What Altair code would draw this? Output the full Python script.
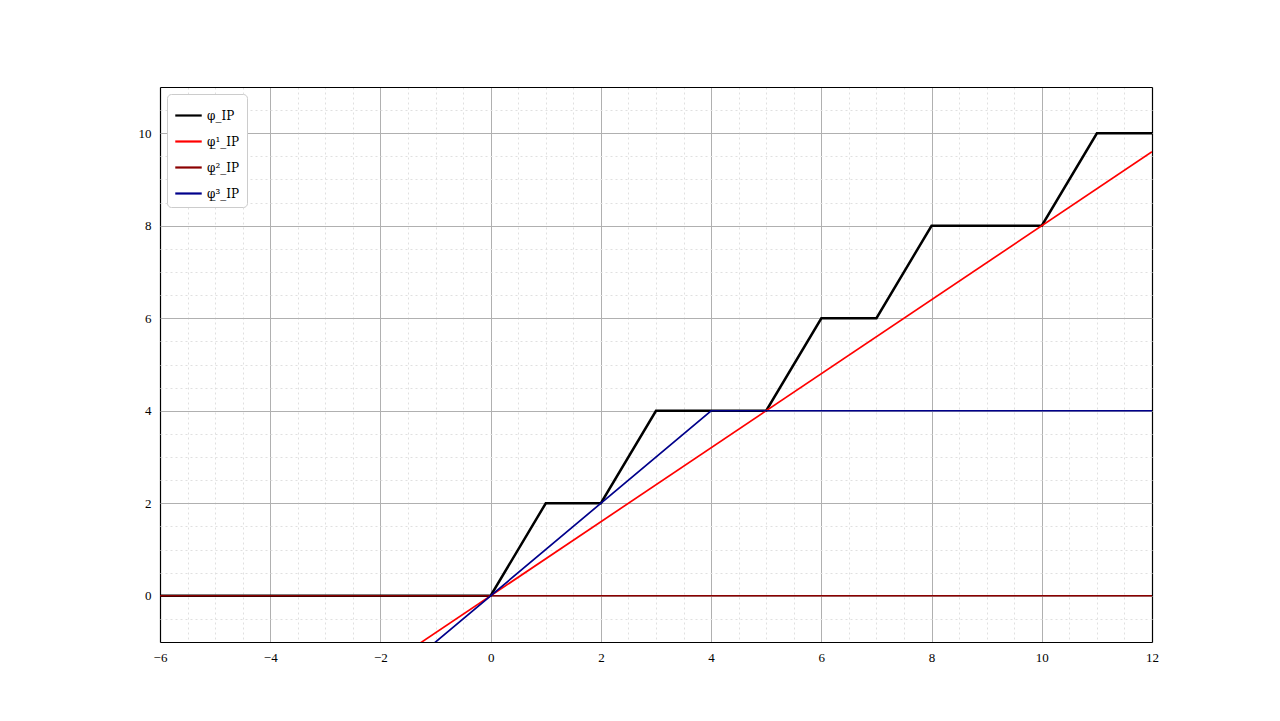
import altair as alt
import pandas as pd

series_names = ["φ_IP", "φ̲¹_IP", "φ̲²_IP", "φ̲³_IP"]
series_colors = ["black", "red", "#8b0000", "#00008b"]

phi_x = [-6, 0, 1, 2, 3, 5, 6, 7, 8, 10, 11, 12]
phi_y = [0, 0, 2, 2, 4, 4, 6, 6, 8, 8, 10, 10]
phi1_x = [-6, 12]
phi1_y = [-4.8, 9.6]
phi2_x = [-6, 12]
phi2_y = [0, 0]
phi3_x = [-6, 4, 12]
phi3_y = [-6, 4, 4]

x_ticks = [v / 2 for v in range(-12, 25)]
y_ticks = [v / 2 for v in range(-2, 23)]

def frame(name, xs, ys):
    return pd.DataFrame({"x": xs, "y": ys, "series": name, "i": range(len(xs))})

dfs = [frame(series_names[0], phi_x, phi_y),
       frame(series_names[1], phi1_x, phi1_y),
       frame(series_names[2], phi2_x, phi2_y),
       frame(series_names[3], phi3_x, phi3_y)]
widths = [2.5, 1.7, 1.7, 1.7]

def grid_color(lo, hi):
    return {"condition": [
        {"test": f"datum.value === {lo} || datum.value === {hi}", "value": "black"},
        {"test": "datum.value % 2 === 0", "value": "#b0b0b0"}],
        "value": "#e0e0e0"}

def grid_dash(lo, hi):
    return {"condition": [
        {"test": f"datum.value === {lo} || datum.value === {hi}", "value": []},
        {"test": "datum.value % 2 === 0", "value": []}],
        "value": [2, 3]}

def grid_width(lo, hi):
    return {"condition": {"test": f"datum.value === {lo} || datum.value === {hi}", "value": 1.2},
            "value": 1}

common = dict(title=None, ticks=False, domain=False,
              labelExpr="datum.value % 2 === 0 ? format(datum.value, 'd') : ''",
              labelPadding=9, labelFont="Liberation Serif", labelFontSize=13,
              labelColor="black")

xaxis = alt.Axis(values=x_ticks, gridColor=grid_color(-6, 12), gridDash=grid_dash(-6, 12),
                 gridWidth=grid_width(-6, 12), labelFlush=False, **common)
yaxis = alt.Axis(values=y_ticks, gridColor=grid_color(-1, 11), gridDash=grid_dash(-1, 11),
                 gridWidth=grid_width(-1, 11), **common)

layers = []
for k, (df, w) in enumerate(zip(dfs, widths)):
    layers.append(
        alt.Chart(df).mark_line(strokeWidth=w, clip=True).encode(
            x=alt.X("x:Q", scale=alt.Scale(domain=[-6, 12], nice=False, zero=False), axis=xaxis),
            y=alt.Y("y:Q", scale=alt.Scale(domain=[-1, 11], nice=False, zero=False), axis=yaxis),
            color=alt.Color("series:N",
                            scale=alt.Scale(domain=series_names, range=series_colors),
                            legend=alt.Legend(title=None, orient="top-left", offset=7,
                                              symbolType="stroke", symbolSize=700,
                                              symbolStrokeWidth=2.2,
                                              labelFont="DejaVu Serif", labelFontSize=12,
                                              labelColor="black",
                                              rowPadding=5, padding=7,
                                              strokeColor="#cccccc", fillColor="white",
                                              cornerRadius=4)),
            order="i:Q",
        )
    )

chart = alt.layer(*layers).properties(
    width=992, height=555,
    autosize=alt.AutoSizeParams(type="none"),
    padding={"left": 152, "top": 79, "right": 120, "bottom": 71},
).configure_view(stroke="black", strokeWidth=1.2).configure(background="white")

chart.save("out.html", embed_options={"renderer": "svg", "actions": False})
